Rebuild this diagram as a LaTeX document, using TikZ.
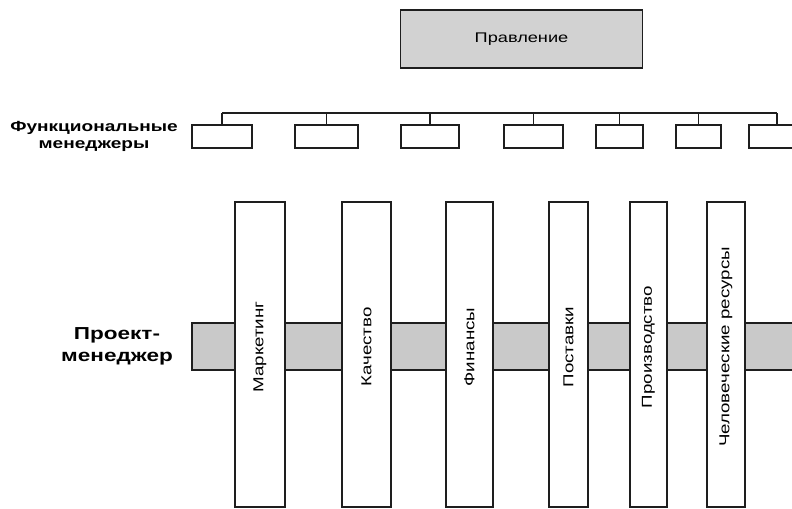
\documentclass[tikz,border=0pt]{standalone}
\usepackage{fontspec}
\setmainfont{Liberation Sans}[FakeStretch=1.3]
\usepackage{tikz}
\definecolor{my_black}{HTML}{1E1E1E}
\definecolor{my_gray}{HTML}{C9C9C9}
\definecolor{my_lightgray}{HTML}{D2D2D2}

\begin{document}
\begin{tikzpicture}[
    x=0.75pt, y=-0.75pt,
    board/.style={draw=my_black, fill=my_lightgray, line width=0.8pt,
        minimum width=182pt, minimum height=43.5pt, inner sep=0pt,
        font=\fontsize{10.5}{12}\selectfont},
    fbox/.style={draw=my_black, fill=white, line width=0.8pt,
        minimum height=17.25pt, inner sep=0pt},
    bar/.style={draw=my_black, fill=white, line width=1pt,
        minimum height=228.75pt, inner sep=0pt},
    bartext/.style={rotate=90, font=\fontsize{10.8}{12}\selectfont},
    sidelabel/.style={align=center, font=\bfseries\fontsize{11}{12.75}\selectfont},
    bus/.style={draw=my_black, line width=0.8pt}
]
\useasboundingbox (0,0) rectangle (792,508);

%% ---- Правление ----
\node[board] (board) at (521.5,39) {Правление};

%% ---- Функциональные менеджеры ----
\node[sidelabel] (fmlabel) at (94,136.5) {Функциональные\\менеджеры};
\foreach \i/\x/\w in {1/222/45pt, 2/326.5/47.25pt, 3/430/43.5pt, 4/533.5/44.25pt,
                      5/619.5/35.25pt, 6/698.5/33.75pt, 7/777/42pt} {
    \node[fbox, minimum width=\w] (fm\i) at (\x,136.5) {};
}
%% Sammelschiene ueber den Kaestchen
\coordinate (busL) at (222,113);
\coordinate (busR) at (777,113);
\draw[bus] (busL) -- (busR);
\foreach \i in {1,...,7} {
    \draw[bus] (fm\i.north) -- (fm\i.north |- busL);
}

%% ---- Проект-менеджер (Querband) ----
\node[sidelabel, font=\bfseries\fontsize{13}{16.5}\selectfont] (pmlabel)
    at (117,346.5) {Проект-\\менеджер};
\filldraw[fill=my_gray, draw=my_black, line width=0.8pt]
    (192,323) rectangle (800,370);

%% ---- Функциональные подразделения ----
\foreach \i/\x/\w/\t in {1/260/37.5pt/Маркетинг, 2/366.5/36.75pt/Качество,
                         3/469.5/35.25pt/Финансы, 4/568.5/29.25pt/Поставки,
                         5/648.5/27.75pt/Производство,
                         6/726/28.5pt/Человеческие ресурсы} {
    \node[bar, minimum width=\w] (dep\i) at (\x,354.5) {};
    \node[bartext] (dep\i text) at (\x,347) {\t};
}

\end{tikzpicture}
\end{document}
